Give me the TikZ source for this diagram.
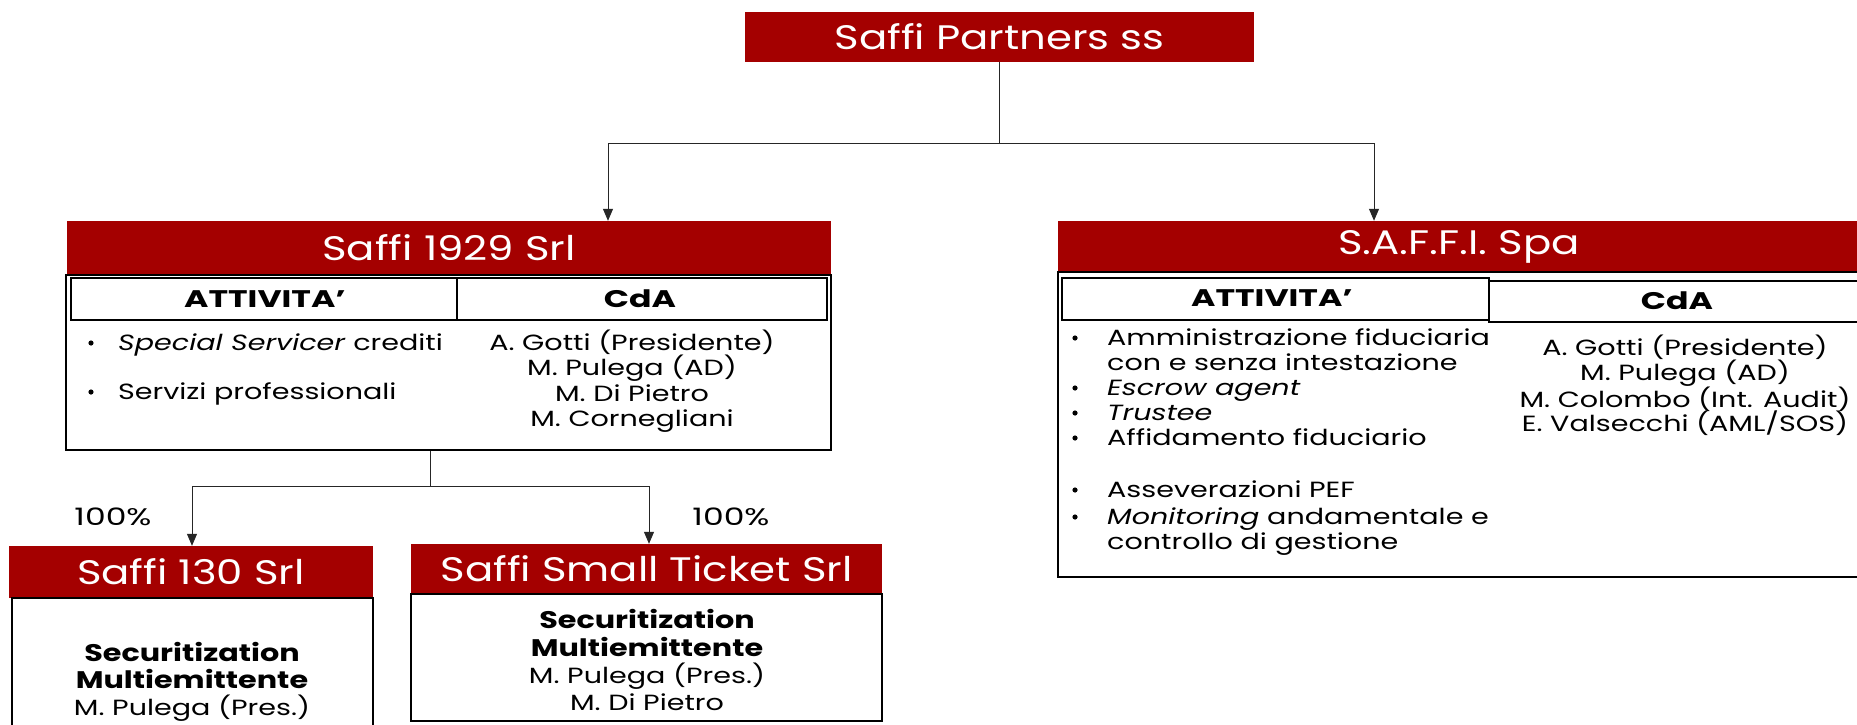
\documentclass[tikz,border=0pt]{standalone}
\usepackage{fontspec}
\setmainfont{Poppins}[FakeStretch=1.3]
\newfontfamily\hdrf{Poppins}[FakeStretch=1.23,Ligatures=TeX]
\newfontfamily\lblf{Poppins}[FakeStretch=1.38,Ligatures=TeX]
\newfontfamily\secf{Poppins}[FakeStretch=1.26,Ligatures=TeX]
\newfontfamily\pctf{Poppins}[FakeStretch=1.375,Ligatures=TeX]
\usetikzlibrary{arrows.meta}
\definecolor{saffired}{RGB}{164,0,0}
\begin{document}
\begin{tikzpicture}[x=1pt,y=-1pt,
  hdr/.style={fill=saffired, text=white, inner sep=0pt, font=\hdrf\fontsize{34}{38}\selectfont},
  conn/.style={draw=black!85, line width=1pt},
  arr/.style={conn, -{Triangle[width=10pt,length=12pt]}},
  box/.style={draw=black, line width=2.5pt, inner sep=0pt},
  cell/.style={draw=black, line width=1.5pt},
  txt/.style={inner sep=0pt, font=\fontsize{22}{26}\selectfont, anchor=base},
  txtl/.style={txt, anchor=base west},
  boldlbl/.style={inner sep=0pt, font=\lblf\bfseries\fontsize{24}{28}\selectfont},
  boldtxt/.style={inner sep=0pt, anchor=base, font=\secf\bfseries\fontsize{24}{28}\selectfont},
  pct/.style={inner sep=0pt, anchor=base, font=\pctf\fontsize{24}{28}\selectfont}]
\clip (0,0) rectangle (1857,725);
\fill[white] (0,0) rectangle (1857,725);

% top
\node[hdr, minimum width=509pt, minimum height=50pt] (top) at (999.5,37) {Saffi Partners ss};
\coordinate (jL) at (608,143);
\coordinate (jR) at (1374,143);

% Saffi 1929
\node[hdr, minimum width=764pt, minimum height=54pt] (h1929) at (449,248) {Saffi 1929 Srl};
\node[box, minimum width=765pt, minimum height=175pt] (t1929) at (448.5,362.5) {};
\draw[cell] (71,278) rectangle (457,320);
\draw[cell] (457,278) rectangle (827,320);
\node[boldlbl] (a1929) at (265,299) {ATTIVITA’};
\node[boldlbl] (c1929) at (640,299) {CdA};
\fill (91,343) circle (2.6pt);
\fill (91,392) circle (2.6pt);
\node[txtl] (l1929a) at (118,350) {\textit{Special Servicer} crediti};
\node[txtl] (l1929b) at (118,399) {Servizi professionali};
\node[txt] (m1929a) at (632,350) {A. Gotti (Presidente)};
\node[txt] (m1929b) at (632,375) {M. Pulega (AD)};
\node[txt] (m1929c) at (632,401) {M. Di Pietro};
\node[txt] (m1929d) at (632,426) {M. Cornegliani};

% S.A.F.F.I.
\node[hdr, minimum width=802pt, minimum height=51pt] (hsaffi) at (1459,246.5) {S.A.F.F.I. Spa};
\node[box, minimum width=804pt, minimum height=305pt] (tsaffi) at (1460,424.5) {};
\draw[cell] (1062,278) rectangle (1489,320);
\draw[cell] (1489,281) rectangle (1862,322);
\node[boldlbl] (asaffi) at (1272,298) {ATTIVITA’};
\node[boldlbl] (csaffi) at (1677,301) {CdA};
\foreach \yy in {338,388,413,438,490,517} {\fill (1075,\yy) circle (2.6pt);}
\node[txtl] (ls1) at (1107,345) {Amministrazione fiduciaria};
\node[txtl] (ls2) at (1107,370) {con e senza intestazione};
\node[txtl] (ls3) at (1107,395) {\textit{Escrow agent}};
\node[txtl] (ls4) at (1107,420) {\textit{Trustee}};
\node[txtl] (ls5) at (1107,445) {Affidamento fiduciario};
\node[txtl] (ls6) at (1107,497) {Asseverazioni PEF};
\node[txtl] (ls7) at (1107,524) {\textit{Monitoring} andamentale e};
\node[txtl] (ls8) at (1107,549) {controllo di gestione};
\node[txt] (ms1) at (1685,355) {A. Gotti (Presidente)};
\node[txt] (ms2) at (1685,380) {M. Pulega (AD)};
\node[txt] (ms3) at (1685,407) {M. Colombo (Int. Audit)};
\node[txt] (ms4) at (1685,431) {E. Valsecchi (AML/SOS)};

% top connectors
\draw[conn] (top.south) -- (top.south |- jL);
\draw[conn] (jL) -- (jR);
\draw[arr] (jL) -- (jL |- h1929.north);
\draw[arr] (jR) -- (jR |- hsaffi.north);

% Saffi 130
\node[hdr, minimum width=364pt, minimum height=52pt] (h130) at (191,572) {Saffi 130 Srl};
\node[box, minimum width=361pt, minimum height=162pt] (t130) at (192.5,679) {};
\node[boldtxt] (s130a) at (192,661) {Securitization};
\node[boldtxt] (s130b) at (192,688) {Multiemittente};
\node[txt] (s130c) at (192,715) {M. Pulega (Pres.)};

% Saffi Small Ticket
\node[hdr, minimum width=471pt, minimum height=50pt] (hst) at (646.5,569) {Saffi Small Ticket Srl};
\node[box, minimum width=471pt, minimum height=127pt] (tst) at (646.5,657.5) {};
\node[boldtxt] (sta) at (647,628) {Securitization};
\node[boldtxt] (stb) at (647,656) {Multiemittente};
\node[txt] (stc) at (647,683) {M. Pulega (Pres.)};
\node[txt] (std) at (647,710) {M. Di Pietro};

% lower connectors
\coordinate (jB) at (430,486);
\coordinate (jB1) at (192,486);
\coordinate (jB2) at (649,486);
\draw[conn] (t1929.south -| jB) -- (jB);
\draw[conn] (jB1) -- (jB2);
\draw[arr] (jB1) -- (jB1 |- h130.north);
\draw[arr] (jB2) -- (jB2 |- hst.north);
\node[pct] (p1) at (113,525) {100\%};
\node[pct] (p2) at (731,525) {100\%};
\end{tikzpicture}
\end{document}
